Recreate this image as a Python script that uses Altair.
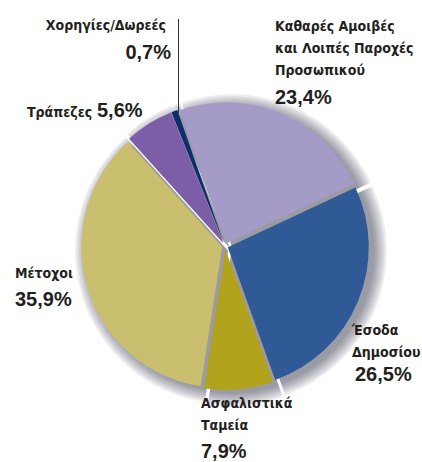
import math
import altair as alt
import pandas as pd

# ---- data ----
categories = ["Καθαρές Αμοιβές και Λοιπές Παροχές Προσωπικού", "Έσοδα Δημοσίου",
              "Ασφαλιστικά Ταμεία", "Μέτοχοι", "Τράπεζες", "Χορηγίες/Δωρεές"]
shares = [23.4, 26.5, 7.9, 35.9, 5.6, 0.7]
name_lines = [["Καθαρές Αμοιβές", "και Λοιπές Παροχές", "Προσωπικού"],
              ["Έσοδα", "Δημοσίου"],
              ["Ασφαλιστικά", "Ταμεία"],
              ["Μέτοχοι"],
              ["Τράπεζες"],
              ["Χορηγίες/Δωρεές"]]
colors = ["#a59bc7", "#2f5a95", "#b1a31c", "#cabf6e", "#7b5da8", "#0b2f6b"]

df = pd.DataFrame({"category": categories, "share": shares, "order": list(range(len(shares)))})

# ---- layout / style ----
W, H = 422, 462
CX, CY = 225, 246
R = 141
START = 2 * math.pi - 0.337
EXPLODE = 3
NAME_FONT = "DejaVu Sans Condensed, sans-serif"
PCT_FONT = "Liberation Sans, Arial, sans-serif"
INK = "#231f20"

base = (
    alt.Chart(df)
    .transform_window(cum="sum(share)", sort=[alt.SortField("order")], frame=[None, 0])
    .transform_calculate(
        t0=f"{START} + 2*PI*(datum.cum - datum.share)/100",
        t1=f"{START} + 2*PI*datum.cum/100",
    )
    .transform_calculate(mid="(datum.t0 + datum.t1)/2")
    .transform_calculate(
        cx=f"{CX} + {EXPLODE}*sin(datum.mid)",
        cy=f"{CY} - {EXPLODE}*cos(datum.mid)",
    )
)

layers = []
# soft shadow (several translucent grey layers)
for k in range(7):
    layers.append(
        base.transform_calculate(sx="datum.cx + 6", sy="datum.cy + 4")
        .mark_arc(outerRadius=R + 2 * k, color="#34344a", opacity=0.085)
        .encode(
            theta=alt.Theta("t0:Q", scale=None),
            theta2="t1:Q",
            x=alt.X("sx:Q", scale=None),
            y=alt.Y("sy:Q", scale=None),
        )
    )

layers.append(
    base.mark_arc(outerRadius=R).encode(
        theta=alt.Theta("t0:Q", scale=None),
        theta2="t1:Q",
        x=alt.X("cx:Q", scale=None),
        y=alt.Y("cy:Q", scale=None),
        color=alt.Color("category:N", scale=alt.Scale(domain=categories, range=colors), legend=None),
    )
)

# leader line for the tiny slice
layers.append(
    alt.Chart(alt.Data(values=[{}])).mark_rule(color="#333333", strokeWidth=1).encode(
        x=alt.value(178.5), y=alt.value(19), y2=alt.value(113)
    )
)

pct_expr = "replace(format(datum.share, '.1f'), '.', ',') + '%'"

def name(i, x, y, align="left"):
    lines = name_lines[i]
    return (
        alt.Chart(df).transform_filter(f"datum.order == {i}")
        .mark_text(font=NAME_FONT, fontSize=14, fontWeight="bold", color=INK,
                   align=align, baseline="alphabetic", lineHeight=22)
        .encode(x=alt.value(x), y=alt.value(y), text=alt.value(lines if len(lines) > 1 else lines[0]))
    )

def pct(i, x, y, align="left"):
    return (
        alt.Chart(df).transform_filter(f"datum.order == {i}")
        .transform_calculate(pct=pct_expr)
        .mark_text(font=PCT_FONT, fontSize=20, fontWeight="bold", color=INK,
                   align=align, baseline="alphabetic")
        .encode(x=alt.value(x), y=alt.value(y), text="pct:N")
    )

layers += [
    name(0, 275, 31), pct(0, 275, 104),
    name(1, 352, 335), pct(1, 355, 381),
    name(2, 201, 408), pct(2, 201, 458),
    name(3, 15, 278), pct(3, 15, 306),
    name(4, 27, 117), pct(4, 97, 117),
    name(5, 166, 30, "right"), pct(5, 171, 59, "right"),
]

chart = (
    alt.layer(*layers)
    .properties(width=W, height=H, autosize="none", padding=0, background="white")
    .configure_view(stroke=None)
)

chart.save("out.html", embed_options={"renderer": "svg", "actions": False})
